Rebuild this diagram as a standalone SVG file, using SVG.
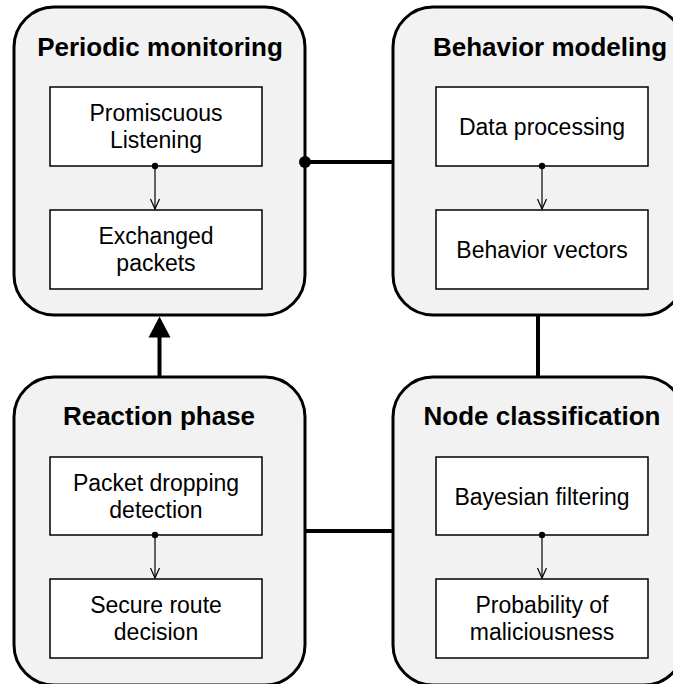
<svg xmlns="http://www.w3.org/2000/svg" width="673" height="684" viewBox="0 0 673 684">
<defs>
<style>
.phase{fill:#f2f2f2;stroke:#000;stroke-width:3}
.step{fill:#fff;stroke:#000;stroke-width:1.5}
.title{font-family:"Liberation Sans",Arial,sans-serif;font-weight:bold;font-size:26px;text-anchor:middle;fill:#000}
.label{font-family:"Liberation Sans",Arial,sans-serif;font-size:23px;text-anchor:middle;fill:#000}
.thin{stroke:#000;stroke-width:1.2;fill:none;marker-start:url(#dot);marker-end:url(#vee)}
.thick{stroke:#000;stroke-width:4;fill:none}
</style>
<marker id="dot" viewBox="-4 -4 8 8" markerWidth="8" markerHeight="8" markerUnits="userSpaceOnUse" refX="0" refY="0" orient="auto">
<circle cx="0" cy="0" r="3.2" fill="#000"/>
</marker>
<marker id="vee" viewBox="0 0 12 12" markerWidth="12" markerHeight="12" markerUnits="userSpaceOnUse" refX="11" refY="6" orient="auto">
<path d="M1,1.5 L11,6 L1,10.5" fill="none" stroke="#000" stroke-width="1.2"/>
</marker>
</defs>
<g id="periodic-monitoring">
<rect class="phase" x="14" y="7" width="291" height="308" rx="40" ry="40"/>
<text class="title" x="160" y="56">Periodic monitoring</text>
<g id="promiscuous-listening">
<rect class="step" x="50" y="87" width="212" height="79"/>
<text class="label" x="156" y="121">Promiscuous</text>
<text class="label" x="156" y="148">Listening</text>
</g>
<g id="exchanged-packets">
<rect class="step" x="50" y="210" width="212" height="79"/>
<text class="label" x="156" y="244">Exchanged</text>
<text class="label" x="156" y="271">packets</text>
</g>
<line class="thin" x1="155" y1="166" x2="155" y2="209"/>
</g>
<g id="behavior-modeling">
<rect class="phase" x="393" y="7" width="291" height="308" rx="40" ry="40"/>
<text class="title" x="550" y="56">Behavior modeling</text>
<g id="data-processing">
<rect class="step" x="436" y="87" width="212" height="79"/>
<text class="label" x="542" y="135">Data processing</text>
</g>
<g id="behavior-vectors">
<rect class="step" x="436" y="210" width="212" height="79"/>
<text class="label" x="542" y="258">Behavior vectors</text>
</g>
<line class="thin" x1="542" y1="166" x2="542" y2="209"/>
</g>
<g id="reaction-phase">
<rect class="phase" x="14" y="377" width="291" height="308" rx="40" ry="40"/>
<text class="title" x="159" y="425">Reaction phase</text>
<g id="packet-dropping-detection">
<rect class="step" x="50" y="457" width="212" height="78"/>
<text class="label" x="156" y="491">Packet dropping</text>
<text class="label" x="156" y="518">detection</text>
</g>
<g id="secure-route-decision">
<rect class="step" x="50" y="579" width="212" height="79"/>
<text class="label" x="156" y="613">Secure route</text>
<text class="label" x="156" y="640">decision</text>
</g>
<line class="thin" x1="155" y1="535" x2="155" y2="578"/>
</g>
<g id="node-classification">
<rect class="phase" x="393" y="377" width="291" height="308" rx="40" ry="40"/>
<text class="title" x="542" y="425">Node classification</text>
<g id="bayesian-filtering">
<rect class="step" x="436" y="457" width="212" height="78"/>
<text class="label" x="542" y="505">Bayesian filtering</text>
</g>
<g id="probability-of-maliciousness">
<rect class="step" x="436" y="579" width="212" height="79"/>
<text class="label" x="542" y="613">Probability of</text>
<text class="label" x="542" y="640">maliciousness</text>
</g>
<line class="thin" x1="542" y1="535" x2="542" y2="578"/>
</g>
<g id="connectors">
<line class="thick" x1="305" y1="162" x2="393" y2="162"/>
<circle cx="305" cy="162" r="6" fill="#000"/>
<line class="thick" x1="538" y1="316" x2="538" y2="376"/>
<line class="thick" x1="306" y1="531" x2="392" y2="531"/>
<line class="thick" x1="159.5" y1="376" x2="159.5" y2="335"/>
<polygon points="159.5,316.5 148.5,337.5 170.5,337.5" fill="#000"/>
</g>
</svg>
